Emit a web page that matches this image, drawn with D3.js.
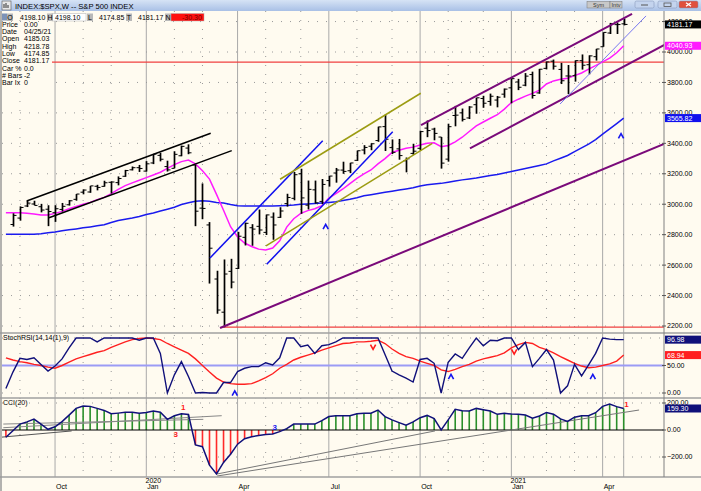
<!DOCTYPE html>
<html><head><meta charset="utf-8">
<script src="https://cdn.jsdelivr.net/npm/d3@7"></script>
<style>
body{margin:0;background:#fffbf0;overflow:hidden}
svg{display:block}
text{font-family:"Liberation Sans",Arial,sans-serif}
</style></head>
<body><svg id="c" width="701" height="491"></svg>
<script>
// ---------------- DATA ----------------
const weeks = [
"2019-08-18","2019-08-25","2019-09-01","2019-09-08","2019-09-15","2019-09-22","2019-09-29","2019-10-06","2019-10-13","2019-10-20",
"2019-10-27","2019-11-03","2019-11-10","2019-11-17","2019-11-24","2019-12-01","2019-12-08","2019-12-15","2019-12-22","2019-12-29",
"2020-01-05","2020-01-12","2020-01-19","2020-01-26","2020-02-02","2020-02-09","2020-02-16","2020-02-23","2020-03-01","2020-03-08",
"2020-03-15","2020-03-22","2020-03-29","2020-04-05","2020-04-12","2020-04-19","2020-04-26","2020-05-03","2020-05-10","2020-05-17",
"2020-05-24","2020-05-31","2020-06-07","2020-06-14","2020-06-21","2020-06-28","2020-07-05","2020-07-12","2020-07-19","2020-07-26",
"2020-08-02","2020-08-09","2020-08-16","2020-08-23","2020-08-30","2020-09-06","2020-09-13","2020-09-20","2020-09-27","2020-10-04",
"2020-10-11","2020-10-18","2020-10-25","2020-11-01","2020-11-08","2020-11-15","2020-11-22","2020-11-29","2020-12-06","2020-12-13",
"2020-12-20","2020-12-27","2021-01-03","2021-01-10","2021-01-17","2021-01-24","2021-01-31","2021-02-07","2021-02-14","2021-02-21",
"2021-02-28","2021-03-07","2021-03-14","2021-03-21","2021-03-28","2021-04-04","2021-04-11","2021-04-18","2021-04-25"];

const openP = [null,2866.7,2909.0,2988.4,3001.5,2983.5,2967.1,2944.2,2965.8,2996.5,
3032.1,3079.0,3080.3,3117.9,3117.4,3143.9,3141.9,3183.6,3226.1,3240.1,
3217.6,3271.1,3321.0,3247.2,3235.7,3318.3,3369.0,3257.6,2974.3,2863.9,
2508.6,2290.7,2559.0,2578.3,2782.5,2845.6,2854.7,2815.0,2915.5,2913.9,
3004.1,3038.8,3199.9,2993.8,3094.4,3018.6,3155.3,3205.1,3224.3,3219.8,
3288.3,3356.0,3380.9,3418.1,3509.7,3371.9,3363.6,3285.6,3333.9,3367.3,
3500.0,3493.5,3441.4,3296.2,3583.0,3600.2,3566.8,3653.8,3694.7,3675.3,
3684.3,3723.0,3764.6,3803.1,3781.9,3851.7,3731.2,3892.6,3939.6,3885.6,
3842.5,3844.4,3943.0,3916.5,3969.3,4034.4,4124.7,4179.8,4185.0];
const highP = [null,2940.4,2985.9,3022.0,3022.9,3002.4,2993.3,2993.3,3008.3,3027.4,
3066.9,3097.8,3120.5,3127.6,3154.3,3150.6,3182.7,3225.7,3247.9,3258.1,
3283.0,3329.9,3337.8,3285.9,3348.0,3385.1,3393.5,3259.8,3136.7,2882.6,
2563.0,2637.0,2641.4,2818.6,2879.2,2869.0,2965.0,2932.2,2945.8,2980.3,
3068.7,3211.7,3233.1,3155.5,3155.3,3165.8,3186.0,3238.3,3279.3,3272.0,
3352.5,3387.9,3400.0,3509.4,3588.1,3425.6,3428.9,3306.9,3397.2,3482.3,
3549.9,3502.4,3441.4,3529.0,3646.0,3628.5,3644.3,3699.2,3712.4,3726.7,
3711.2,3760.2,3826.7,3823.6,3861.5,3870.9,3889.0,3937.2,3950.4,3928.7,
3914.5,3945.0,3983.9,3978.2,4020.6,4129.5,4191.3,4194.2,4218.8];
const lowP = [null,2853.1,2891.9,2981.4,2993.3,2946.4,2856.0,2884.0,2952.5,2991.2,
3023.2,3065.0,3075.0,3091.0,3115.4,3070.3,3124.0,3180.0,3222.0,3212.0,
3214.6,3263.5,3281.5,3214.7,3235.7,3315.2,3328.5,2855.8,2901.5,2478.9,
2280.5,2191.9,2447.5,2574.6,2729.0,2727.1,2801.8,2797.9,2766.6,2910.3,
2984.5,3025.8,2936.9,2965.7,3004.6,3000.5,3115.7,3141.6,3200.0,3204.4,
3284.5,3327.7,3354.7,3410.0,3349.6,3329.4,3292.4,3209.5,3323.7,3354.6,
3440.5,3419.9,3233.9,3279.7,3511.9,3543.8,3559.6,3594.4,3633.4,3647.2,
3636.5,3699.7,3662.7,3749.6,3775.1,3694.1,3725.5,3885.6,3884.5,3789.5,
3723.3,3805.4,3884.3,3853.5,3943.6,4034.4,4118.4,4118.4,4174.9];
const closeP = [null,2926.5,2978.7,3007.4,2992.1,2961.8,2952.0,2970.3,2986.2,3022.6,
3066.9,3093.1,3120.5,3110.3,3141.0,3145.9,3168.8,3221.2,3240.0,3234.9,
3265.4,3329.6,3295.5,3225.5,3327.7,3380.2,3337.8,2954.2,2972.4,2711.0,
2304.9,2541.5,2488.7,2789.8,2874.6,2836.7,2830.7,2929.8,2863.7,2955.5,
3044.3,3193.9,3041.3,3097.7,3009.1,3130.0,3185.0,3224.7,3215.6,3271.1,
3351.3,3372.9,3397.2,3508.0,3427.0,3341.0,3319.5,3298.5,3348.4,3477.1,
3483.8,3465.4,3270.0,3509.4,3585.2,3557.5,3638.4,3699.1,3663.5,3709.4,
3703.1,3756.1,3824.7,3768.3,3841.5,3714.2,3886.8,3934.8,3906.7,3811.2,
3841.9,3943.3,3913.1,3974.5,4019.9,4128.8,4185.5,4180.2,4181.17];

const maFast = [2944,2944,2944,2940,2935,2929,2929,2940,2953,2970,
2985,3000,3012,3030,3045,3070,3098,3122,3140,3157,
3175,3192,3210,3235,3260,3280,3290,3265,3220,3165,
3065,2960,2852,2785,2745,2722,2705,2700,2712,2760,
2850,2905,2940,2958,2970,2990,3040,3070,3100,3135,
3170,3200,3225,3265,3300,3340,3355,3367,3375,3389,
3400,3404,3378,3386,3410,3440,3478,3515,3540,3565,
3588,3625,3668,3690,3710,3728,3750,3790,3810,3821,
3827,3845,3862,3887,3910,3935,3960,3995,4040.93];
const maSlow = [2802,2802,2802,2802,2802,2806,2812,2818,2826,2832,
2838,2845,2851,2858,2865,2880,2893,2902,2910,2920,
2933,2943,2955,2967,2980,2998,3010,3020,3022,3020,
3012,3008,2998,2990,2988,2988,2988,2988,2989,2990,
2992,2995,3000,3002,3005,3008,3012,3017,3025,3032,
3042,3055,3062,3070,3078,3085,3093,3100,3108,3120,
3128,3133,3137,3145,3152,3160,3166,3172,3180,3188,
3195,3205,3215,3225,3235,3245,3255,3265,3285,3302,
3320,3345,3370,3395,3425,3460,3495,3530,3565.82];

const stochK = [8,38,63,61,64,52,40,49,62,82,
100,100,100,93,100,100,100,100,100,96,
100,100,72,0,33,57,30,0,1,0,
0,19,19,39,45,48,48,55,51,64,
100,100,84,87,72,86,88,93,100,100,
100,100,100,100,70,40,33,27,20,61,
63,54,0,56,71,63,82,100,86,96,
95,100,100,79,92,48,63,79,60,0,
13,52,31,51,72,100,98,97,96.98];
const stochD = [64,60,57,55,52,50,47,45,50,56,
62,66,70,74,77,83,88,93,97,99,
100,99,97,90,84,78,72,62,50,38,
27,20,17,16,16,17,22,28,35,45,
52,60,65,69,73,78,82,86,90,91,
93,93,94,96,90,80,72,66,63,58,
54,50,42,39,43,48,52,58,62,65,
68,73,82,88,92,90,83,79,73,66,
60,54,49,46,47,50,53,58,68.94];

const cci = [-54,-5,44,60,81,44,5,24,62,110,
160,178,175,160,145,120,125,131,131,124,
130,141,131,79,105,120,115,-111,-124,-260,
-326,-240,-180,-105,-65,-50,-40,-33,-30,-12,
10,44,44,44,44,70,100,106,106,106,
120,124,124,148,99,75,55,35,60,91,
108,85,0,75,153,142,141,160,150,141,
116,124,118,116,111,88,104,130,117,82,
63,95,106,106,128,175,193,173,159.30];

const priceTicks = [2200,2400,2600,2800,3000,3200,3400,3600,3800,4000,4200];
const stochTicks = [0,50];
const cciTicks = [200,0,-200];

// trendlines [week index, value]
const trendMain = [
  {c:"#000000", w:1.5, p:[[2.96,3021],[29.17,3466]]},
  {c:"#000000", w:1.5, p:[[6.14,2911],[32.17,3352]]},
  {c:"#1010ee", w:1.5, p:[[29.07,2647],[45.13,3417]]},
  {c:"#1010ee", w:1.5, p:[[37.15,2605],[55.1,3476]]},
  {c:"#9c9c12", w:1.5, p:[[39.05,3164],[59.09,3729]]},
  {c:"#9c9c12", w:1.5, p:[[37.05,2727],[60.74,3400]]},
  {c:"#7a0a7a", w:2, p:[[59.13,3520],[89.19,4250]]},
  {c:"#7a0a7a", w:2, p:[[66.1,3367],[93.79,4046]]},
  {c:"#7a0a7a", w:2, p:[[30.5,2187],[93.75,3396]]},
  {c:"#7878f0", w:1, p:[[78.93,3658],[91.18,4237]]}
];
const redLevels = [{v:3934, from:-1}, {v:2192, from:30.9}];
const trendCci = [
  {c:"#555555", p:[[-0.84,-54],[9.37,-7]]},
  {c:"#888888", p:[[-0.37,44],[28.12,79]]},
  {c:"#888888", p:[[-0.37,17],[30.74,106]]},
  {c:"#777777", p:[[30.07,-326],[61.12,-7]]},
  {c:"#777777", p:[[30.07,-341],[90.19,148]]}
];
const marksMain = [{j:45.55,v:2852,t:"up"},{j:87.62,v:3448,t:"up"}];
const marksStoch = [{j:32.6,v:-0.5,t:"up"},{j:52.3,v:83.6,t:"down"},{j:63.4,v:29.6,t:"up"},{j:72.4,v:75,t:"down"},{j:83.6,v:29.6,t:"up"}];
const marksCci = [{j:25.27,v:168,s:"1",c:"#ff1a1a"},{j:24.2,v:-30,s:"3",c:"#ff1a1a"},{j:38.3,v:24,s:"3",c:"#1515ee"},{j:88.4,v:193,s:"1",c:"#ff1a1a"}];

const infoLabels = ["Price","Date","Open","High","Low","Close","Car %","# Bars","Bar Ix"];
const infoValues = ["0.00","04/25/21","4185.03","4218.78","4174.85","4181.17","0.0","-2","0"];

// ---------------- LAYOUT ----------------
const svg = d3.select("#c");
const BG = "#fffbf0";
const L = 2, R = 664;
const mainTop = 11, mainBot = 333, stTop = 333, stBot = 398, ccTop = 398, ccBot = 477;
const x = d3.scaleLinear().domain([0, 88]).range([5.9, 623.7]);
const yM = d3.scaleLinear().domain([2200, 4000]).range([326, 52]);
const yS = d3.scaleLinear().domain([0, 100]).range([393, 338]);
const yC = d3.scaleLinear().domain([-200, 200]).range([457, 403]);
const parse = d3.timeParse("%Y-%m-%d");
const dates = weeks.map(parse);

svg.append("rect").attr("width", 701).attr("height", 491).attr("fill", BG);

const defs = svg.append("defs");
function clip(id, y0, y1) {
  defs.append("clipPath").attr("id", id).append("rect")
    .attr("x", L).attr("y", y0).attr("width", R - L).attr("height", y1 - y0);
}
clip("cm", mainTop, mainBot); clip("cs", stTop, stBot); clip("cc", ccTop, ccBot);
const gTB = defs.append("linearGradient").attr("id", "tb").attr("x1", 0).attr("y1", 0).attr("x2", 0).attr("y2", 1);
gTB.append("stop").attr("offset", 0).attr("stop-color", "#d6e3f5");
gTB.append("stop").attr("offset", 1).attr("stop-color", "#a9c0e6");

// month gridlines
const monthStarts = [];
dates.forEach((d, i) => { if (i > 0 && d.getMonth() !== dates[i - 1].getMonth()) monthStarts.push(i); });
const grid = svg.append("g");
monthStarts.forEach(i => {
  const q = dates[i].getMonth() % 3 === 0;
  grid.append("line").attr("x1", x(i)).attr("x2", x(i)).attr("y1", mainTop).attr("y2", ccBot)
    .attr("stroke", q ? "#a9a9a9" : "#9a9a9a").attr("stroke-width", 1)
    .attr("stroke-dasharray", q ? null : "1,8");
});
grid.append("line").attr("x1", x(88)).attr("x2", x(88)).attr("y1", mainTop).attr("y2", ccBot)
  .attr("stroke", "#a9a9a9");

function hDots(ys) {
  ys.forEach(y => grid.append("line").attr("x1", L).attr("x2", R).attr("y1", y).attr("y2", y)
    .attr("stroke", "#9a9a9a").attr("stroke-dasharray", "1,8"));
}
hDots(priceTicks.map(yM).filter(y => y > mainTop));
hDots([yS(0), yS(100)]);
hDots([yC(200), yC(-200)]);

// ---------------- MAIN PANEL ----------------
const gm = svg.append("g").attr("clip-path", "url(#cm)");
redLevels.forEach(r => gm.append("line").attr("x1", x(r.from)).attr("x2", R).attr("y1", yM(r.v)).attr("y2", yM(r.v))
  .attr("stroke", "#f04040").attr("stroke-width", 1.2));
const lineM = d3.line().x((d, i) => x(i)).y(d => yM(d));
gm.append("path").attr("d", lineM(maSlow)).attr("fill", "none").attr("stroke", "#1a1aee").attr("stroke-width", 1.5);
gm.append("path").attr("d", lineM(maFast)).attr("fill", "none").attr("stroke", "#ff1aff").attr("stroke-width", 1.5);

const idx = d3.range(weeks.length).filter(i => openP[i] != null);
const bars = gm.append("g").attr("stroke", "#000");
idx.forEach(i => {
  const cx = Math.round(x(i)) + 0.5;
  bars.append("line").attr("x1", cx).attr("x2", cx).attr("y1", yM(highP[i])).attr("y2", yM(lowP[i])).attr("stroke-width", 1.7);
  bars.append("line").attr("x1", cx - 3).attr("x2", cx).attr("y1", yM(openP[i])).attr("y2", yM(openP[i])).attr("stroke-width", 1);
  bars.append("line").attr("x1", cx).attr("x2", cx + 3).attr("y1", yM(closeP[i])).attr("y2", yM(closeP[i])).attr("stroke-width", 1);
});
const tl = d3.line().x(d => x(d[0])).y(d => yM(d[1]));
trendMain.forEach(t => gm.append("path").attr("d", tl(t.p)).attr("fill", "none").attr("stroke", t.c).attr("stroke-width", t.w));

function chevron(g, cx, cy, up, color) {
  const d = up ? `M${cx - 2.6},${cy + 2.3}L${cx},${cy - 2.3}L${cx + 2.6},${cy + 2.3}`
               : `M${cx - 2.6},${cy - 2.3}L${cx},${cy + 2.3}L${cx + 2.6},${cy - 2.3}`;
  g.append("path").attr("d", d).attr("fill", "none").attr("stroke", color).attr("stroke-width", 1.6);
}
marksMain.forEach(m => chevron(gm, x(m.j), yM(m.v), true, "#1515ee"));

// ---------------- STOCH RSI ----------------
const gs = svg.append("g").attr("clip-path", "url(#cs)");
gs.append("line").attr("x1", L).attr("x2", R).attr("y1", yS(50)).attr("y2", yS(50)).attr("stroke", "#9b9bf5").attr("stroke-width", 2);
const lineS = d3.line().x((d, i) => x(i)).y(d => yS(d));
gs.append("path").attr("d", lineS(stochD)).attr("fill", "none").attr("stroke", "#ff2020").attr("stroke-width", 1.4);
gs.append("path").attr("d", lineS(stochK)).attr("fill", "none").attr("stroke", "#10107a").attr("stroke-width", 1.4);
marksStoch.forEach(m => chevron(gs, x(m.j), yS(m.v), m.t === "up", m.t === "up" ? "#1515ee" : "#ff1a1a"));

// ---------------- CCI ----------------
const gc = svg.append("g").attr("clip-path", "url(#cc)");
cci.forEach((v, i) => gc.append("line").attr("x1", x(i)).attr("x2", x(i)).attr("y1", yC(0)).attr("y2", yC(v))
  .attr("stroke", v >= 0 ? "#2a8f2a" : "#ff2a2a").attr("stroke-width", 1.6));
gc.append("line").attr("x1", L).attr("x2", R).attr("y1", yC(0)).attr("y2", yC(0)).attr("stroke", "#000").attr("stroke-width", 1.2);
const tlc = d3.line().x(d => x(d[0])).y(d => yC(d[1]));
trendCci.forEach(t => gc.append("path").attr("d", tlc(t.p)).attr("fill", "none").attr("stroke", t.c).attr("stroke-width", 1));
gc.append("path").attr("d", d3.line().x((d, i) => x(i)).y(d => yC(d))(cci)).attr("fill", "none").attr("stroke", "#10107a").attr("stroke-width", 1.5);
marksCci.forEach(m => gc.append("text").attr("x", x(m.j)).attr("y", yC(m.v) + 3).attr("text-anchor", "middle")
  .attr("font-size", 8).attr("font-weight", "bold").attr("fill", m.c).text(m.s));

// ---------------- FRAME ----------------
const fr = svg.append("g");
[mainBot, stBot, ccBot].forEach(y => fr.append("line").attr("x1", 0).attr("x2", 701).attr("y1", y).attr("y2", y)
  .attr("stroke", "#a0a0a0").attr("stroke-width", 1.5));
fr.append("line").attr("x1", R).attr("x2", R).attr("y1", mainTop).attr("y2", ccBot).attr("stroke", "#808080").attr("stroke-width", 1);
fr.append("line").attr("x1", 1).attr("x2", 1).attr("y1", mainTop).attr("y2", 491).attr("stroke", "#9a9a9a").attr("stroke-width", 1.5);

// right axis labels
const ax = svg.append("g").attr("font-size", 7).attr("fill", "#000");
function axisLabels(vals, sc, fmt) {
  vals.forEach(v => {
    const y = sc(v);
    ax.append("line").attr("x1", R - 2).attr("x2", R + 2).attr("y1", y).attr("y2", y).attr("stroke", "#555");
    ax.append("text").attr("x", R + 3).attr("y", y).attr("dy", "0.35em").text(fmt(v));
  });
}
const f2 = d3.format(".2f");
axisLabels(priceTicks, yM, f2);
axisLabels(stochTicks, yS, f2);
axisLabels(cciTicks, yC, f2);
function valBox(v, sc, bg, fg) {
  const y = sc(v);
  ax.append("rect").attr("x", R + 1).attr("y", y - 4).attr("width", 701 - R - 1).attr("height", 8).attr("fill", bg);
  ax.append("text").attr("x", R + 3).attr("y", y).attr("dy", "0.35em").attr("fill", fg).text(f2(v));
}
valBox(closeP[88], yM, "#000", "#fff");
valBox(maFast[88], yM, "#ff1aff", "#fff");
valBox(maSlow[88], yM, "#1010ee", "#fff");
valBox(stochK[88], yS, "#10107a", "#fff");
valBox(stochD[88], yS, "#ff2020", "#fff");
valBox(cci[88], yC, "#10107a", "#fff");

// x labels
const fmtM = d3.timeFormat("%b"), fmtY = d3.timeFormat("%Y");
monthStarts.filter(i => dates[i].getMonth() % 3 === 0).forEach(i => {
  ax.append("text").attr("x", x(i) + 6.5).attr("y", 489).attr("text-anchor", "middle").text(fmtM(dates[i]));
  if (dates[i].getMonth() === 0)
    ax.append("text").attr("x", x(i) + 7).attr("y", 482.5).attr("text-anchor", "middle").text(fmtY(dates[i]));
});

// panel titles
ax.append("text").attr("x", 3).attr("y", 339.5).text("StochRSI(14,14(1),9)");
ax.append("text").attr("x", 3).attr("y", 405).text("CCI(20)");

// info box
const info = svg.append("g").attr("font-size", 7);
info.append("rect").attr("x", 2).attr("y", 22).attr("width", 50).attr("height", 65).attr("fill", BG);
infoLabels.forEach((t, k) => {
  info.append("text").attr("x", 2).attr("y", 26.5 + k * 7.35).text(t);
  info.append("text").attr("x", 24).attr("y", 26.5 + k * 7.35).text(infoValues[k]);
});

// header row
const hr = svg.append("g").attr("font-size", 7);
hr.append("rect").attr("x", 2).attr("y", 13.5).attr("width", 5).attr("height", 7).attr("fill", "#7d93b8");
const boxes = [
  {lx: 7, l: "O", v: "4198.10", vx: 20, wb: null},
  {lx: 47, l: "H", v: "4198.10", vx: 55, wb: [52, 86, "#ffffff"]},
  {lx: 87, l: "L", v: "4174.85", vx: 99, wb: null},
  {lx: 126, l: "T", v: "4181.17", vx: 138, wb: null},
  {lx: 165, l: "N", v: "-30.30", vx: 182, wb: [171, 204, "#ff1010"]}
];
boxes.forEach(b => {
  if (b.wb) hr.append("rect").attr("x", b.wb[0]).attr("y", 13.5).attr("width", b.wb[1] - b.wb[0]).attr("height", 7.5).attr("fill", b.wb[2]).attr("stroke", "#b0b0b0").attr("stroke-width", 0.5);
  hr.append("rect").attr("x", b.lx).attr("y", 13.5).attr("width", 6).attr("height", 7.5).attr("fill", "#b8b8b8");
  hr.append("text").attr("x", b.lx + 3).attr("y", 19.5).attr("text-anchor", "middle").text(b.l);
  hr.append("text").attr("x", b.vx).attr("y", 19.5).attr("fill", b.l === "N" ? "#700000" : "#000").text(b.v);
});

// title bar
const tb = svg.append("g");
tb.append("rect").attr("x", 0).attr("y", 0).attr("width", 701).attr("height", 11).attr("fill", "url(#tb)");
tb.append("rect").attr("x", 2).attr("y", 1).attr("width", 9).attr("height", 9).attr("fill", "#e8e8e8").attr("stroke", "#555").attr("stroke-width", 0.6);
tb.append("path").attr("d", "M4,8V4M6,8V3M8,8V5").attr("stroke", "#333").attr("stroke-width", 1);
tb.append("text").attr("x", 15).attr("y", 8.6).attr("font-size", 7.6).attr("fill", "#000").text("INDEX:$SPX,W -- S&P 500 INDEX");
[[587, 610, "Sym"], [610, 622, "Intv"]].forEach(b => {
  tb.append("rect").attr("x", b[0]).attr("y", 1.5).attr("width", b[1] - b[0]).attr("height", 6.5).attr("fill", "#c8c8c8").attr("stroke", "#777").attr("stroke-width", 0.5);
  tb.append("text").attr("x", (b[0] + b[1]) / 2).attr("y", 7).attr("text-anchor", "middle").attr("font-size", 5.5).attr("fill", "#333").text(b[2]);
});
[[635, 654, "#c4d4ee"], [658, 677, "#c4d4ee"], [679, 698, "#e0503c"]].forEach(b => {
  tb.append("rect").attr("x", b[0]).attr("y", 1).attr("width", b[1] - b[0]).attr("height", 7).attr("rx", 1.5).attr("fill", b[2]).attr("stroke", "#7d8fb0").attr("stroke-width", 0.5);
});
tb.append("line").attr("x1", 641).attr("x2", 648).attr("y1", 5).attr("y2", 5).attr("stroke", "#555");
tb.append("rect").attr("x", 664).attr("y", 3).attr("width", 7).attr("height", 3.5).attr("fill", "none").attr("stroke", "#555").attr("stroke-width", 0.8);
tb.append("path").attr("d", "M686,2.8L691,6.3M691,2.8L686,6.3").attr("stroke", "#fff").attr("stroke-width", 1.2);
</script>
</body></html>
